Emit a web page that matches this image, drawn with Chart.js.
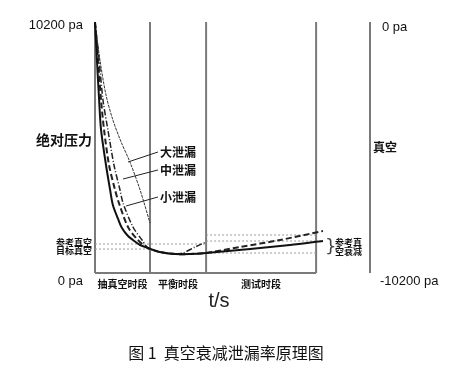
<!DOCTYPE html>
<html>
<head>
<meta charset="utf-8">
<script src="https://cdn.jsdelivr.net/npm/chart.js@4.4.1/dist/chart.umd.min.js"></script>
<style>
  html, body { margin: 0; padding: 0; background: #fff; }
  #wrap { position: relative; width: 469px; height: 376px; }
</style>
</head>
<body>
<div id="wrap"><canvas id="chart" width="469" height="376"></canvas></div>
<script>
// time axis 0..100, pressure axis 0..10200 pa
const phaseBounds = [0, 20, 40.4, 80.4, 100];
const phaseNames = ['抽真空时段', '平衡时段', '测试时段'];

// solid curve (reference / no leak)
const solidX = [0, 0.7, 1.5, 2.2, 4.0, 5.5, 6.5, 8.4, 9.8, 12.0, 13.8, 16.4, 19.3, 23.6, 29.1, 34.5, 40.4, 56.4, 70.9, 82.9];
const solidY = [10200, 8656, 7031, 5812, 4389, 3373, 2764, 2195, 1829, 1504, 1341, 1138, 1016, 853, 772, 772, 813, 975, 1138, 1300];

// dashed curve
const dashX = [0, 1.1, 2.2, 3.3, 5.1, 7.3, 8.7, 12.0, 15.6, 19.3, 23.6, 29.1, 34.5, 40.4, 52.7, 67.3, 82.9];
const dashY = [10200, 8656, 7031, 5812, 4389, 3373, 2845, 1869, 1341, 1016, 853, 772, 772, 813, 1057, 1341, 1707];

// dash-dot curve
const dotDashX = [0, 1.5, 2.9, 4.7, 6.9, 9.1, 10.2, 13.8, 17.1, 19.3, 23.6, 29.1, 32.0, 36.4, 40.4];
const dotDashY = [10200, 8656, 7031, 5812, 4389, 3373, 2845, 1869, 1341, 1016, 853, 772, 813, 1057, 1260];

// thin curve (large leak)
const thinX = [0, 1.8, 4.0, 6.5, 9.5, 12.7, 16.4, 20.0];
const thinY = [10200, 8656, 7234, 6218, 5324, 4511, 3373, 2032];

// reference levels [value, from, to]
const refLevels = [
  [1179, 0, 40.4],
  [975, 0, 20],
  [1544, 40.4, 80.4],
  [1300, 40.4, 80.4],
  [813, 40.4, 80.4]
];

// leader lines for the labels: [labelX, labelY, curveX, curveY]
const leakNames = ['大泄漏', '中泄漏', '小泄漏'];
const leaders = [
  [22.9, 4917, 12.0, 4511],
  [22.9, 4186, 10.2, 3820],
  [22.9, 3089, 11.3, 2723]
];

const pts = (xs, ys) => xs.map((x, i) => ({ x: x, y: ys[i] }));

const datasets = [];
// phase separators
phaseBounds.forEach((b, i) => {
  datasets.push({
    data: [{ x: b, y: 0 }, { x: b, y: 10200 }],
    borderColor: '#7a7a7a', borderWidth: 2, order: 5
  });
});
datasets.push({
  data: [{ x: 0, y: 0 }, { x: phaseBounds[3], y: 0 }],
  borderColor: '#7a7a7a', borderWidth: 2, order: 5
});
refLevels.forEach(r => {
  datasets.push({
    data: [{ x: r[1], y: r[0] }, { x: r[2], y: r[0] }],
    borderColor: '#9a9a9a', borderWidth: 1, borderDash: [2, 2], order: 4
  });
});
leaders.forEach(l => {
  datasets.push({
    data: [{ x: l[0], y: l[1] }, { x: l[2], y: l[3] }],
    borderColor: '#222', borderWidth: 1, order: 1
  });
});
datasets.push({ data: pts(thinX, thinY), borderColor: '#333', borderWidth: 1, borderDash: [3, 1], tension: 0.3, order: 2 });
datasets.push({ data: pts(dotDashX, dotDashY), borderColor: '#222', borderWidth: 1.5, borderDash: [6, 2, 1, 2], tension: 0.3, order: 2 });
datasets.push({ data: pts(dashX, dashY), borderColor: '#222', borderWidth: 2, borderDash: [6, 3], tension: 0.3, order: 2 });
datasets.push({ data: pts(solidX, solidY), borderColor: '#111', borderWidth: 2, tension: 0.3, order: 1 });

const labelsPlugin = {
  id: 'labels',
  afterDraw(chart) {
    const { ctx, chartArea: a, scales: { x, y } } = chart;
    const top = y.getPixelForValue(10200), bot = y.getPixelForValue(0);
    ctx.save();
    ctx.fillStyle = '#111';
    ctx.textBaseline = 'middle';

    ctx.font = '13px "Liberation Sans", Arial, sans-serif';
    ctx.textAlign = 'right';
    ctx.fillText('10200 pa', a.left - 12, top + 3);
    ctx.fillText('0 pa', a.left - 12, bot + 8);
    ctx.textAlign = 'left';
    ctx.fillText('0 pa', a.right + 12, top + 5);
    ctx.fillText('-10200 pa', a.right + 10, bot + 8);

    ctx.font = 'bold 14px "Noto Sans CJK SC", sans-serif';
    ctx.textAlign = 'right';
    ctx.fillText('绝对压力', a.left - 3, 140);
    ctx.font = 'bold 12px "Noto Sans CJK SC", sans-serif';
    ctx.textAlign = 'left';
    ctx.fillText('真空', a.right + 3, 147);

    // phase names under the axis
    ctx.font = 'bold 10px "Noto Sans CJK SC", sans-serif';
    ctx.textAlign = 'center';
    phaseNames.forEach((n, i) => {
      const cx = (x.getPixelForValue(phaseBounds[i]) + x.getPixelForValue(phaseBounds[i + 1])) / 2;
      ctx.fillText(n, cx, bot + 11);
    });

    // leak labels
    ctx.font = 'bold 12px "Noto Sans CJK SC", sans-serif';
    ctx.textAlign = 'left';
    leaders.forEach((l, i) => {
      ctx.fillText(leakNames[i], x.getPixelForValue(l[0]) + 2, y.getPixelForValue(l[1]));
    });

    // reference vacuum labels
    ctx.font = 'bold 9px "Noto Sans CJK SC", sans-serif';
    ctx.textAlign = 'right';
    ctx.fillText('参考真空', a.left - 3, y.getPixelForValue(refLevels[0][0]) - 1);
    ctx.fillText('目标真空', a.left - 3, y.getPixelForValue(refLevels[1][0]) + 2);
    ctx.textAlign = 'left';
    ctx.fillText('参考真', 335, 243);
    ctx.fillText('空衰减', 335, 252);
    ctx.font = '18px "DejaVu Sans", sans-serif';
    ctx.fillStyle = '#444';
    ctx.fillText('}', 325, 247);

    ctx.fillStyle = '#222';
    ctx.font = '20px "Liberation Sans", Arial, sans-serif';
    ctx.textAlign = 'center';
    ctx.fillText('t/s', 219, 301);

    ctx.fillStyle = '#111';
    ctx.font = '16px "Noto Sans CJK SC", sans-serif';
    ctx.fillText('图 1  真空衰减泄漏率原理图', 226, 353);
    ctx.restore();
  }
};

new Chart(document.getElementById('chart').getContext('2d'), {
  type: 'line',
  data: { datasets: datasets },
  options: {
    responsive: false,
    animation: false,
    events: [],
    layout: { padding: { left: 95, top: 22, right: 99, bottom: 103 } },
    elements: { point: { radius: 0 }, line: { fill: false } },
    datasets: { line: { clip: false } },
    scales: {
      x: { type: 'linear', min: 0, max: 100, display: false },
      y: { min: 0, max: 10200, display: false }
    },
    plugins: { legend: { display: false }, tooltip: { enabled: false } }
  },
  plugins: [labelsPlugin]
});
</script>
</body>
</html>
